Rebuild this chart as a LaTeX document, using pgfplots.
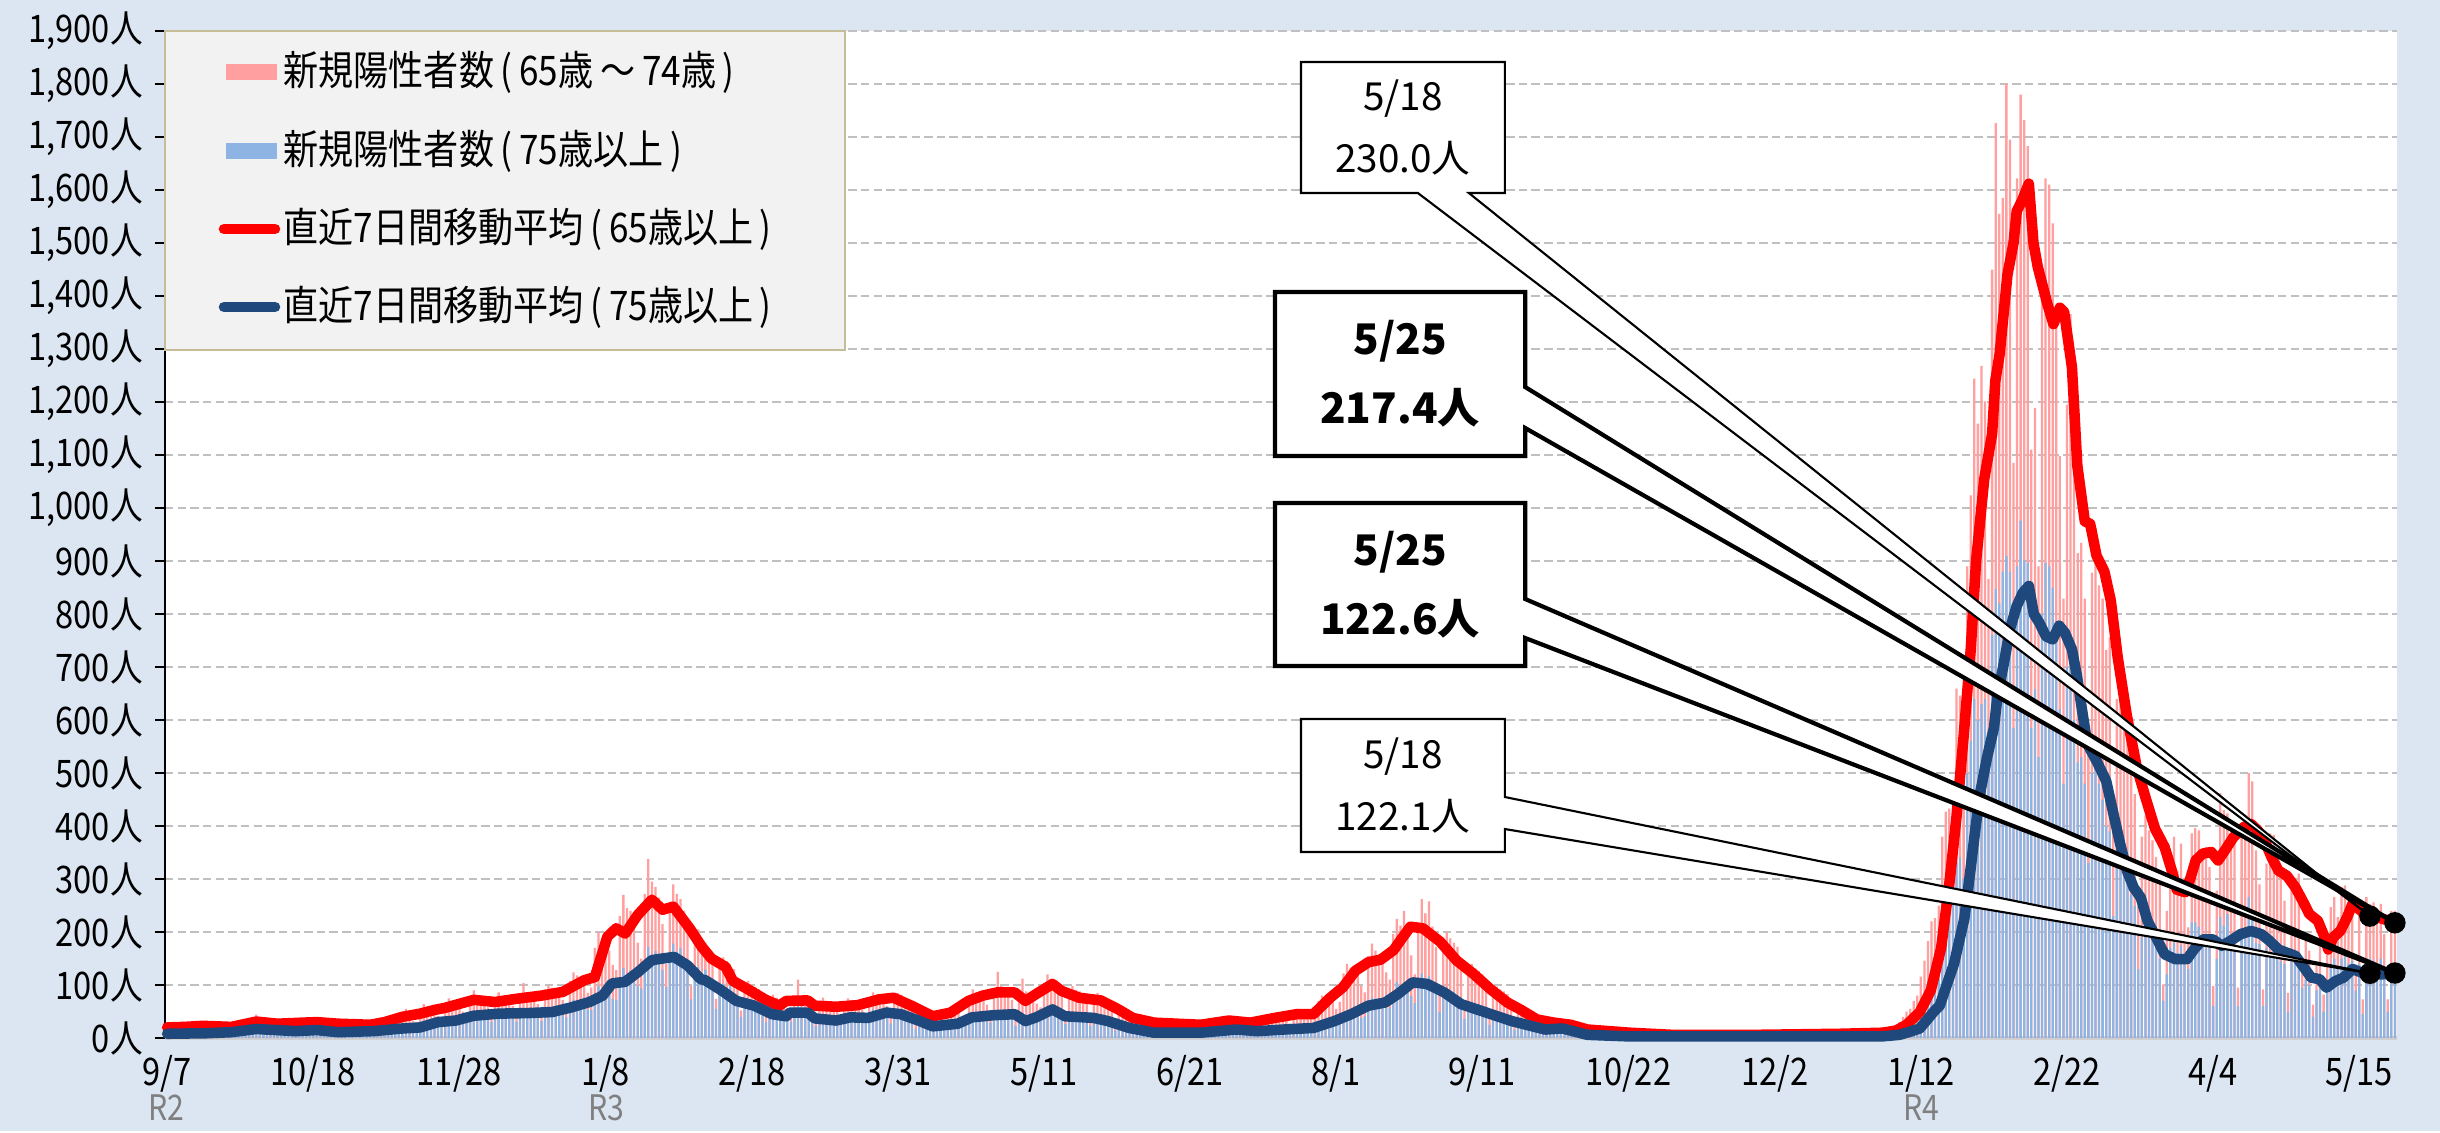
\documentclass[border=0pt]{standalone}
\usepackage{fontspec}
\setmainfont{Noto Sans CJK JP}
\newfontfamily\condfont{Noto Sans CJK JP}[FakeStretch=0.86]
\usepackage{pgfplots}
\usepackage{pgfplotstable}
\pgfplotsset{compat=1.18}
\definecolor{bgblue}{HTML}{DCE6F2}
\definecolor{pinkc}{HTML}{FF9F9F}
\definecolor{bluec}{HTML}{8DB4E2}
\definecolor{navy}{HTML}{1F497D}
\definecolor{legbg}{HTML}{F2F2F2}
\definecolor{legbd}{HTML}{C4BD97}
\definecolor{gridc}{HTML}{C0C0C0}
\definecolor{rgray}{HTML}{7F7F7F}

\pgfplotstableread[row sep=\\]{
t u\\
12 5\\22 8\\25 10\\21 9\\23 9\\20 8\\17 7\\
14 6\\26 9\\27 11\\25 10\\24 10\\25 9\\19 8\\
13 6\\21 10\\27 12\\24 11\\22 12\\23 10\\18 9\\
18 10\\30 16\\38 19\\33 18\\44 18\\31 16\\26 14\\
16 9\\29 14\\33 17\\30 15\\28 16\\29 14\\22 13\\
17 8\\30 13\\35 16\\31 14\\30 15\\28 13\\25 12\\
18 9\\31 14\\34 17\\35 15\\31 16\\29 14\\24 13\\
15 8\\28 12\\32 14\\29 13\\28 14\\27 12\\22 11\\
16 8\\29 13\\31 16\\33 14\\29 15\\27 13\\23 12\\
22 12\\41 18\\48 22\\43 20\\55 21\\40 18\\32 16\\
30 16\\52 24\\64 29\\56 26\\57 28\\52 24\\42 22\\
35 21\\65 33\\75 40\\68 36\\64 38\\63 33\\50 30\\
42 28\\78 43\\90 52\\80 47\\77 49\\74 43\\58 39\\
40 30\\73 46\\86 55\\78 51\\75 53\\70 46\\60 41\\
45 31\\83 47\\104 56\\86 52\\84 54\\80 47\\64 42\\
50 32\\92 49\\100 59\\95 54\\91 56\\87 49\\72 44\\
60 39\\108 60\\124 72\\118 66\\112 69\\103 60\\85 54\\
95 53\\170 82\\200 98\\185 90\\178 94\\165 82\\138 74\\
128 72\\230 110\\270 132\\245 121\\240 127\\222 110\\180 99\\
150 93\\272 143\\338 172\\295 157\\285 164\\265 143\\215 129\\
140 96\\250 148\\290 178\\272 163\\262 170\\240 148\\198 133\\
98 73\\176 112\\205 134\\188 123\\180 129\\170 112\\140 101\\
74 55\\134 85\\152 102\\145 94\\135 98\\130 85\\105 77\\
52 40\\95 62\\108 74\\100 68\\96 71\\92 62\\74 56\\
40 30\\72 46\\82 55\\76 51\\74 53\\70 46\\56 41\\
42 31\\75 47\\110 60\\80 52\\76 54\\73 47\\60 42\\
36 23\\66 36\\76 43\\70 40\\68 41\\64 36\\52 32\\
38 24\\64 37\\75 44\\72 41\\67 43\\66 37\\53 33\\
42 29\\75 45\\86 54\\80 50\\78 52\\72 45\\60 41\\
43 27\\73 42\\85 50\\82 46\\76 48\\74 42\\59 38\\
28 17\\50 26\\57 31\\53 29\\52 30\\48 26\\40 23\\
28 16\\50 25\\56 30\\55 28\\51 29\\49 25\\40 23\\
44 26\\80 40\\92 48\\86 44\\82 46\\78 40\\63 36\\
52 29\\91 44\\125 53\\98 48\\94 51\\90 44\\72 40\\
46 23\\82 36\\112 43\\88 40\\84 41\\80 36\\65 32\\
58 33\\104 50\\120 60\\112 55\\108 58\\102 50\\83 45\\
48 26\\85 40\\98 48\\91 44\\88 46\\83 40\\67 36\\
42 23\\75 36\\85 43\\80 40\\77 41\\73 36\\59 32\\
27 14\\48 22\\55 26\\51 24\\49 25\\47 22\\38 20\\
18 7\\32 11\\37 13\\34 12\\33 13\\31 11\\25 10\\
16 7\\29 10\\32 12\\30 11\\30 12\\28 10\\23 9\\
15 7\\28 10\\31 12\\30 11\\28 12\\27 10\\22 9\\
19 9\\33 14\\39 17\\36 15\\35 16\\34 14\\28 13\\
18 7\\31 11\\37 13\\35 12\\33 13\\32 11\\25 10\\
22 10\\41 15\\47 18\\44 17\\42 17\\39 15\\33 14\\
27 12\\48 18\\55 22\\52 20\\49 21\\47 18\\38 16\\
38 18\\70 28\\80 34\\75 31\\71 32\\68 28\\55 25\\
68 27\\122 42\\140 50\\133 46\\126 48\\120 42\\98 38\\
86 41\\155 63\\178 76\\165 69\\158 72\\150 63\\124 57\\
110 57\\196 88\\225 106\\212 97\\240 101\\192 88\\156 79\\
120 66\\215 102\\262 122\\235 112\\258 117\\210 102\\172 92\\
98 49\\175 76\\200 91\\188 84\\180 87\\172 76\\140 68\\
68 36\\122 56\\140 67\\132 62\\126 64\\120 56\\97 50\\
47 25\\86 38\\97 46\\92 42\\88 44\\83 38\\68 34\\
28 16\\51 25\\58 30\\56 28\\52 29\\50 25\\41 23\\
18 11\\32 17\\37 20\\34 19\\33 20\\31 17\\26 15\\
13 7\\23 10\\27 12\\25 11\\24 12\\22 10\\19 9\\
8 3\\14 5\\16 6\\15 6\\14 6\\13 5\\11 5\\
6 3\\11 4\\12 5\\12 4\\11 5\\11 4\\9 4\\
5 2\\8 3\\10 4\\9 3\\9 3\\8 3\\7 3\\
4 2\\6 3\\7 4\\7 3\\7 3\\6 3\\5 3\\
4 1\\6 2\\7 3\\7 2\\7 2\\6 2\\5 2\\
3 1\\5 2\\6 3\\6 2\\6 2\\5 2\\4 2\\
3 1\\5 2\\6 2\\6 2\\5 3\\5 2\\4 2\\
4 1\\6 2\\7 3\\7 2\\6 2\\6 2\\5 2\\
4 2\\6 3\\7 4\\7 3\\7 3\\6 3\\5 3\\
4 2\\7 3\\7 3\\6 4\\7 3\\6 3\\5 2\\
4 2\\7 3\\8 4\\8 3\\8 3\\7 3\\6 3\\
5 2\\8 3\\10 4\\9 3\\9 3\\8 3\\7 3\\
10 4\\15 6\\22 8\\30 11\\40 14\\50 17\\55 18\\
70 25\\80 30\\116 45\\146 58\\183 70\\220 82\\226 88\\
250 110\\380 160\\427 230\\433 300\\440 290\\659 330\\646 341\\
560 300\\890 500\\1024 560\\1244 640\\1159 600\\1268 630\\1201 640\\
866 520\\1450 760\\1726 847\\1555 820\\1585 880\\1800 909\\1695 880\\
1085 585\\1622 890\\1780 976\\1732 902\\1683 896\\1110 585\\1189 658\\
890 530\\1439 800\\1622 896\\1610 890\\1537 850\\1360 760\\1098 620\\
829 480\\1195 700\\1366 760\\1068 600\\915 520\\934 530\\829 480\\
585 330\\878 500\\963 560\\854 480\\829 450\\732 400\\756 390\\
430 230\\640 340\\700 360\\600 320\\560 300\\520 270\\460 250\\
250 130\\380 190\\420 200\\392 195\\373 185\\342 170\\300 150\\
101 70\\240 120\\342 170\\380 180\\316 160\\367 175\\300 150\\
209 130\\386 218\\396 218\\392 210\\348 190\\360 190\\323 175\\
98 60\\278 150\\462 228\\430 212\\424 234\\386 196\\370 190\\
95 60\\386 196\\420 200\\500 266\\484 240\\354 180\\290 177\\
92 60\\329 170\\386 160\\383 165\\310 150\\304 145\\259 140\\
85 50\\297 150\\266 140\\310 150\\150 95\\190 110\\165 100\\
63 40\\136 90\\187 110\\82 50\\158 100\\247 140\\266 150\\
228 130\\285 150\\288 155\\234 140\\250 145\\139 90\\234 140\\
73 45\\266 150\\253 150\\256 145\\222 130\\253 150\\196 120\\
73 50\\240 140\\240 140\\
}\daily

\begin{document}
\begin{tikzpicture}
\fill[bgblue] (0,0) rectangle (244mm,113.1mm);
\begin{axis}[
  at={(16.5mm,9.3mm)}, anchor=south west, scale only axis,
  width=223.2mm, height=100.7mm,
  xmin=-0.6, xmax=625.6, ymin=0, ymax=1900, clip=false,
  axis background/.style={fill=white},
  axis x line=bottom, axis y line=left,
  x axis line style={-, draw=black!18, line width=1.2pt},
  y axis line style={-, draw=black, line width=0.6pt},
  xtick={0,41,82,123,164,205,246,287,328,369,410,451,492,533,574,615},
  xticklabels={9/7,10/18,11/28,1/8,2/18,3/31,5/11,6/21,8/1,9/11,10/22,12/2,1/12,2/22,4/4,5/15},
  x tick style={draw=none},
  ytick={0,100,...,1900},
  yticklabels={0人,100人,200人,300人,400人,500人,600人,700人,800人,900人,{1,000人},{1,100人},{1,200人},{1,300人},{1,400人},{1,500人},{1,600人},{1,700人},{1,800人},{1,900人}},
  y tick style={draw=black, line width=0.6pt},
  tick align=outside, major tick length=2.8pt,
  ymajorgrids,
  major grid style={gridc, line width=0.55pt, dash pattern=on 2.4pt off 1.2pt},
  tick label style={font=\condfont\fontsize{10.8pt}{12pt}\selectfont, black},
  xticklabel style={anchor=center, yshift=-2.6mm},
]
\addplot[ybar, bar shift=0pt, bar width=0.64, fill=pinkc, draw=none] table[x expr=\coordindex, y=t]{\daily};
\addplot[ybar, bar shift=0pt, bar width=0.64, fill=bluec, draw=none] table[x expr=\coordindex, y=u]{\daily};

\addplot[red, line width=3pt, line join=round, line cap=round] coordinates {
(0,20) (5,21) (10,23) (18,21) (25,31) (31,27) (38,29) (42,30) (48,27) (57,25) (61,30) (66,40) (71,46) (75,53) (78,57) (86,72) (92,68) (98,74) (105,80) (111,87) (117,109) (120,115) (123.5,191) (126,207) (128.5,197) (132,232) (136,261) (139,242) (142,248) (146.6,207) (150,172) (152.7,150) (156.7,134) (158.7,108) (163.7,89) (167.7,73) (171.7,61) (173.7,70) (179.7,71) (181.7,61) (187.7,59) (193.7,62) (199.8,73) (203.8,76) (208.8,61) (214.8,41) (219.8,48) (224.8,70) (228.8,80) (232.8,86) (237.8,86) (240.8,70) (243.8,83) (248.4,102) (250.9,89) (255.9,76) (261.9,71) (266.9,54) (270.9,38) (276.9,29) (289.9,25) (297.9,33) (303.9,29) (310.8,38) (316.9,45) (321.6,45) (326.3,76) (329.9,96) (333.4,127) (337,143) (340.5,148) (344.1,166) (346.4,188) (348.8,210) (352.3,207) (357.1,182) (361.8,146) (366.5,121) (371.3,92) (376,67) (379.6,54) (384.3,35) (389.1,29) (393.8,25) (398.5,16) (410.4,10) (422.2,6) (445.8,6) (469.4,8) (481.2,10) (485,14) (488,25) (491.7,49) (494.8,90) (497.7,170) (500.1,297) (502,417) (504,569) (506,733) (507.5,900) (509.8,1055) (512,1140) (512.9,1240) (514.1,1290) (516.3,1440) (518,1500) (518.9,1560) (520.4,1580) (522.3,1612) (523.6,1500) (524.8,1455) (527.5,1385) (529.2,1347) (531,1378) (532.2,1370) (534.4,1265) (535.9,1080) (538,975) (539.5,970) (541.3,910) (543.5,880) (545.3,825) (547.2,720) (549.8,608) (552.6,510) (555.2,450) (557.7,395) (560.4,360) (562.4,316) (563.8,280) (566.2,275) (567.7,303) (569.1,335) (571.1,348) (573.5,351) (575.4,335) (577.3,354) (579.7,379) (582.6,398) (584.6,404) (586.5,392) (588.4,373) (590.4,341) (592.3,316) (594.7,306) (597.1,284) (599.1,259) (601,234) (603.4,221) (605.3,190) (606.3,167) (607.7,190) (609.7,202) (611.6,228) (613.1,253) (615.5,240) (618,230) (621,226) (623,222) (625,217.4)
};
\addplot[navy, line width=3pt, line join=round, line cap=round] coordinates {
(0,8) (11,9) (18,11) (25,17) (36,13) (42,15) (48,11) (58,13) (66,18) (71,20) (76,30) (81,33) (86,42) (93,46) (101,47) (108,49) (113.5,58) (118.5,68) (122.2,80) (124.8,103) (128.5,106) (132.2,125) (136,147) (139,150) (142.2,153) (146,137) (149.7,111) (151,109) (155.7,89) (159.7,70) (164.7,61) (169.7,45) (173.7,41) (174.7,48) (179.7,48) (181.7,37) (187.7,33) (191.7,39) (196.7,38) (201.8,48) (205.8,45) (210.8,33) (214.8,22) (221.8,27) (225.8,39) (231.8,43) (237.8,45) (240.8,32) (243.8,39) (248.4,54) (251.9,41) (259.9,38) (263.9,32) (269.9,19) (276.9,10) (289.9,10) (299.9,16) (305.9,13) (313.2,16) (321.6,19) (327.5,32) (332.2,45) (337,61) (341.7,67) (345.3,83) (349.4,105) (353.5,102) (358.3,86) (363,64) (370.1,48) (377.2,32) (386.6,16) (391.4,18) (398.5,6) (410.4,3) (481,3) (486,6) (489,12) (491.7,18) (495.8,51) (497.3,61) (498.7,89) (501.3,140) (504.2,225) (505.9,316) (507.4,400) (508.8,468) (510.6,530) (512.5,585) (513.6,650) (515.1,700) (517,771) (518.9,815) (520.6,840) (522.3,853) (523.7,800) (525.2,784) (527.1,758) (529,752) (530.8,778) (532.4,765) (534.4,733) (535.8,683) (537.2,620) (538.7,555) (541.5,520) (544,485) (546.3,415) (547.9,367) (549.8,316) (551.7,284) (553.7,265) (555.6,221) (558,190) (560.4,158) (563.3,149) (566.7,149) (568.6,167) (571.1,186) (574,186) (576.4,174) (578.8,183) (581.7,196) (584.6,202) (587.5,196) (589.9,183) (592.3,167) (594.7,161) (597.1,155) (599.5,133) (601.5,114) (603.9,111) (605.8,95) (608.2,107) (610.6,114) (613.1,130) (615.5,124) (618,122.1) (621,120) (623,121) (625,122.6)
};

% callouts
\draw[fill=white, line width=0.6pt, line join=miter] (axis cs:318.1,1841.5) -- (axis cs:375.3,1841.5) -- (axis cs:375.3,1594.3) -- (axis cs:365.2,1594.3) -- (axis cs:618,230) -- (axis cs:350.9,1594.3) -- (axis cs:318.1,1594.3) -- cycle;
\node[align=center, font=\fontsize{11pt}{17.4pt}\selectfont] at (axis cs:346.7,1717.9) {5/18\\230.0人};
\draw[fill=white, line width=1.2pt, line join=miter] (axis cs:310.8,1407.5) -- (axis cs:381.0,1407.5) -- (axis cs:381.0,1228.3) -- (axis cs:625,217.4) -- (axis cs:381.0,1150.9) -- (axis cs:381.0,1098.1) -- (axis cs:310.8,1098.1) -- cycle;
\node[align=center, font=\bfseries\fontsize{12pt}{19.6pt}\selectfont] at (axis cs:345.9,1252.8) {5/25\\217.4人};
\draw[fill=white, line width=1.2pt, line join=miter] (axis cs:310.8,1009.4) -- (axis cs:381.0,1009.4) -- (axis cs:381.0,828.3) -- (axis cs:625,122.6) -- (axis cs:381.0,754.7) -- (axis cs:381.0,701.9) -- (axis cs:310.8,701.9) -- cycle;
\node[align=center, font=\bfseries\fontsize{12pt}{19.6pt}\selectfont] at (axis cs:345.9,855.7) {5/25\\122.6人};
\draw[fill=white, line width=0.6pt, line join=miter] (axis cs:318.1,601.9) -- (axis cs:375.3,601.9) -- (axis cs:375.3,454.7) -- (axis cs:618,122.1) -- (axis cs:375.3,394.3) -- (axis cs:375.3,350.9) -- (axis cs:318.1,350.9) -- cycle;
\node[align=center, font=\fontsize{11pt}{17.4pt}\selectfont] at (axis cs:346.7,476.4) {5/18\\122.1人};

\addplot[only marks, mark=*, mark size=2.85pt, black] coordinates {(618,230) (625,217.4) (618,122.1) (625,122.6)};
\end{axis}

% legend
\draw[fill=legbg, draw=legbd, line width=0.7pt] (16.5mm,78.1mm) rectangle (84.5mm,110mm);
\fill[pinkc] (22.6mm,105.1mm) rectangle (27.7mm,106.7mm);
\node[anchor=west, inner sep=0pt, font=\condfont\fontsize{11.6pt}{13pt}\selectfont] at (28.3mm,105.9mm) {新規陽性者数\,(\,65歳\,～\,74歳\,)};
\fill[bluec] (22.6mm,97.2mm) rectangle (27.7mm,98.8mm);
\node[anchor=west, inner sep=0pt, font=\condfont\fontsize{11.6pt}{13pt}\selectfont] at (28.3mm,98mm) {新規陽性者数\,(\,75歳以上\,)};
\draw[red, line width=3pt, line cap=round] (22.4mm,90.2mm) -- (27.5mm,90.2mm);
\node[anchor=west, inner sep=0pt, font=\condfont\fontsize{11.6pt}{13pt}\selectfont] at (28.3mm,90.2mm) {直近7日間移動平均\,(\,65歳以上\,)};
\draw[navy, line width=3pt, line cap=round] (22.4mm,82.4mm) -- (27.5mm,82.4mm);
\node[anchor=west, inner sep=0pt, font=\condfont\fontsize{11.6pt}{13pt}\selectfont] at (28.3mm,82.4mm) {直近7日間移動平均\,(\,75歳以上\,)};

% era labels
\node[rgray, font=\condfont\fontsize{10pt}{11pt}\selectfont] at (16.6mm,2.3mm) {R2};
\node[rgray, font=\condfont\fontsize{10pt}{11pt}\selectfont] at (60.6mm,2.3mm) {R3};
\node[rgray, font=\condfont\fontsize{10pt}{11pt}\selectfont] at (192.1mm,2.3mm) {R4};
\end{tikzpicture}
\end{document}
